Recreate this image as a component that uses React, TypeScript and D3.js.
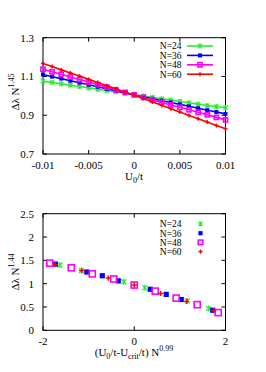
import React from 'react';
import * as d3 from 'd3';

// top panel: Δλ N^1.45 vs U0/t
const uValues = [-0.01, -0.009, -0.008, -0.007, -0.006, -0.005, -0.004, -0.003, -0.002, -0.001, 0,
  0.001, 0.002, 0.003, 0.004, 0.005, 0.006, 0.007, 0.008, 0.009, 0.01];
const n24 = [1.076, 1.069, 1.062, 1.055, 1.048, 1.041, 1.034, 1.027, 1.020, 1.013, 1.006,
  0.999, 0.992, 0.985, 0.978, 0.971, 0.964, 0.957, 0.950, 0.944, 0.939];
const n36 = [1.110, 1.099, 1.089, 1.078, 1.068, 1.057, 1.047, 1.036, 1.026, 1.015, 1.005,
  0.995, 0.985, 0.975, 0.966, 0.956, 0.946, 0.936, 0.926, 0.917, 0.907];
const n48 = [1.137, 1.124, 1.111, 1.097, 1.084, 1.071, 1.058, 1.045, 1.031, 1.018, 1.005,
  0.992, 0.979, 0.966, 0.953, 0.941, 0.928, 0.915, 0.902, 0.889, 0.876];
const n60 = [1.167, 1.151, 1.134, 1.118, 1.102, 1.085, 1.069, 1.052, 1.036, 1.019, 1.003,
  0.986, 0.968, 0.951, 0.934, 0.917, 0.899, 0.882, 0.865, 0.847, 0.830];

// bottom panel: scaled collapse
const sc24x = [-1.63, -1.16, -0.23, 0.23, 1.16, 1.63];
const sc24y = [1.40, 1.28, 1.04, 0.91, 0.63, 0.47];
const sc36x = [-1.73, -1.04, -0.70, -0.35, 0.35, 0.70, 1.03, 1.72];
const sc36y = [1.42, 1.25, 1.17, 1.06, 0.88, 0.77, 0.66, 0.43];
const sc48x = [-1.85, -1.38, -0.92, -0.45, 0, 0.46, 0.92, 1.38, 1.84];
const sc48y = [1.44, 1.34, 1.21, 1.10, 0.97, 0.84, 0.69, 0.55, 0.38];
const sc60x = [-1.73, -1.15, -0.57, 0, 0.58, 1.15, 1.74];
const sc60y = [1.41, 1.28, 1.12, 0.97, 0.79, 0.62, 0.42];

const labels = ['N=24', 'N=36', 'N=48', 'N=60'];
const colors = ['#2ee82e', '#0000ff', '#ff00ff', '#ff0000'];
const markers = ['star', 'fsquare', 'osquare', 'plus'];

const topXTicks = [-0.01, -0.005, 0, 0.005, 0.01];
const topXLabels = ['-0.01', '-0.005', '0', '0.005', '0.01'];
const topYTicks = [0.7, 0.9, 1.1, 1.3];
const botXTicks = [-2, 0, 2];
const botYTicks = [0, 0.5, 1, 1.5, 2, 2.5];
const botYLabels = ['0', '0.5', '1', '1.5', '2', '2.5'];

const font = 'Liberation Serif, Times New Roman, serif';

function Marker({ type, x, y, color, s }) {
  if (type === 'star') {
    return (
      <g stroke={color} strokeWidth={1.2}>
        <line x1={x - s} y1={y - s} x2={x + s} y2={y + s} />
        <line x1={x - s} y1={y + s} x2={x + s} y2={y - s} />
        <line x1={x} y1={y - s * 1.2} x2={x} y2={y + s * 1.2} />
      </g>
    );
  }
  if (type === 'fsquare') {
    return <rect x={x - s} y={y - s} width={2 * s} height={2 * s} fill={color} />;
  }
  if (type === 'osquare') {
    return <rect x={x - s * 1.2 + 0.8} y={y - s * 1.2 + 0.8} width={2.4 * s - 1.6} height={2.4 * s - 1.6}
      fill="none" stroke={color} strokeWidth={1.6} />;
  }
  return (
    <g stroke={color} strokeWidth={1.4}>
      <line x1={x - s} y1={y} x2={x + s} y2={y} />
      <line x1={x} y1={y - s} x2={x} y2={y + s} />
    </g>
  );
}

function Frame({ x, y, xTicks, yTicks, xLabels, yLabels }) {
  const [x0, x1] = x.range();
  const [y0, y1] = y.range();
  const t = 4;
  return (
    <g>
      <rect x={x0} y={y1} width={x1 - x0} height={y0 - y1} fill="none" stroke="#000" strokeWidth={1} />
      {xTicks.map((d, i) => (
        <g key={'x' + i}>
          <line x1={x(d)} x2={x(d)} y1={y0} y2={y0 - t} stroke="#000" />
          <line x1={x(d)} x2={x(d)} y1={y1} y2={y1 + t} stroke="#000" />
          <text x={x(d)} y={y0 + 15} textAnchor="middle" fontSize={11} fontFamily={font}>{xLabels[i]}</text>
        </g>
      ))}
      {yTicks.map((d, i) => (
        <g key={'y' + i}>
          <line x1={x0} x2={x0 + t} y1={y(d)} y2={y(d)} stroke="#000" />
          <line x1={x1} x2={x1 - t} y1={y(d)} y2={y(d)} stroke="#000" />
          <text x={x0 - 9} y={y(d) + 4} textAnchor="end" fontSize={11} fontFamily={font}>{yLabels[i]}</text>
        </g>
      ))}
    </g>
  );
}

export default function App() {
  const xTop = d3.scaleLinear().domain([-0.01, 0.01]).range([43, 225.5]);
  const yTop = d3.scaleLinear().domain([0.7, 1.3]).range([154, 37.7]);
  const xBot = d3.scaleLinear().domain([-2, 2]).range([43, 225.5]);
  const yBot = d3.scaleLinear().domain([0, 2.5]).range([330.3, 213.7]);

  const topSeries = [n24, n36, n48, n60];
  const botSeries = [[sc24x, sc24y], [sc36x, sc36y], [sc48x, sc48y], [sc60x, sc60y]];
  const line = d3.line<number>().x((_, i) => xTop(uValues[i])).y((d) => yTop(d));
  const topSizes = [2.2, 2, 2.4, 2];
  const botSizes = [2.5, 2.6, 3.2, 2.6];

  return (
    <svg width={266} height={372} style={{ position: 'absolute', left: 0, top: 0 }}>
      <rect width={266} height={372} fill="#fff" />
      {/* top panel */}
      <Frame x={xTop} y={yTop} xTicks={topXTicks} yTicks={topYTicks} xLabels={topXLabels}
        yLabels={topYTicks.map((d) => d.toFixed(1))} />
      {topSeries.map((s, k) => (
        <g key={'ts' + k}>
          <path d={line(s)} fill="none" stroke={colors[k]} strokeWidth={1.6} />
          {s.map((d, i) => (
            <Marker key={i} type={markers[k]} x={xTop(uValues[i])} y={yTop(d)} color={colors[k]} s={topSizes[k]} />
          ))}
        </g>
      ))}
      {labels.map((l, k) => {
        const ly = 46 + k * 9.4;
        return (
          <g key={'tl' + k}>
            <text x={181.5} y={ly + 3.3} textAnchor="end" fontSize={9.5} fontFamily={font}>{l}</text>
            <line x1={187} x2={213} y1={ly} y2={ly} stroke={colors[k]} strokeWidth={1.6} />
            <Marker type={markers[k]} x={200} y={ly} color={colors[k]} s={topSizes[k]} />
          </g>
        );
      })}
      <text x={134} y={180} textAnchor="middle" fontSize={11} fontFamily={font}>
        U<tspan fontSize={8} dy={3}>0</tspan><tspan dy={-3}>/t</tspan>
      </text>
      <text transform="translate(19,92) rotate(-90)" textAnchor="middle" fontSize={11} fontFamily={font}>
        Δλ N<tspan fontSize={8} dy={-5}>1.45</tspan>
      </text>

      {/* bottom panel */}
      <Frame x={xBot} y={yBot} xTicks={botXTicks} yTicks={botYTicks} xLabels={botXTicks.map(String)}
        yLabels={botYLabels} />
      {botSeries.map(([xs, ys], k) => (
        <g key={'bs' + k}>
          {xs.map((d, i) => (
            <Marker key={i} type={markers[k]} x={xBot(d)} y={yBot(ys[i])} color={colors[k]} s={botSizes[k]} />
          ))}
        </g>
      ))}
      {labels.map((l, k) => {
        const ly = 224 + k * 9.2;
        return (
          <g key={'bl' + k}>
            <text x={181.5} y={ly + 3.3} textAnchor="end" fontSize={9.5} fontFamily={font}>{l}</text>
            <Marker type={markers[k]} x={200.5} y={ly} color={colors[k]} s={botSizes[k] * 0.8} />
          </g>
        );
      })}
      <text x={134} y={356} textAnchor="middle" fontSize={11} fontFamily={font}>
        (U<tspan fontSize={8} dy={3}>0</tspan><tspan dy={-3}>/t-U</tspan>
        <tspan fontSize={8} dy={3}>crit</tspan><tspan dy={-3}>/t) N</tspan>
        <tspan fontSize={8} dy={-5}>0.99</tspan>
      </text>
      <text transform="translate(19,272) rotate(-90)" textAnchor="middle" fontSize={11} fontFamily={font}>
        Δλ N<tspan fontSize={8} dy={-5}>1.44</tspan>
      </text>
    </svg>
  );
}
